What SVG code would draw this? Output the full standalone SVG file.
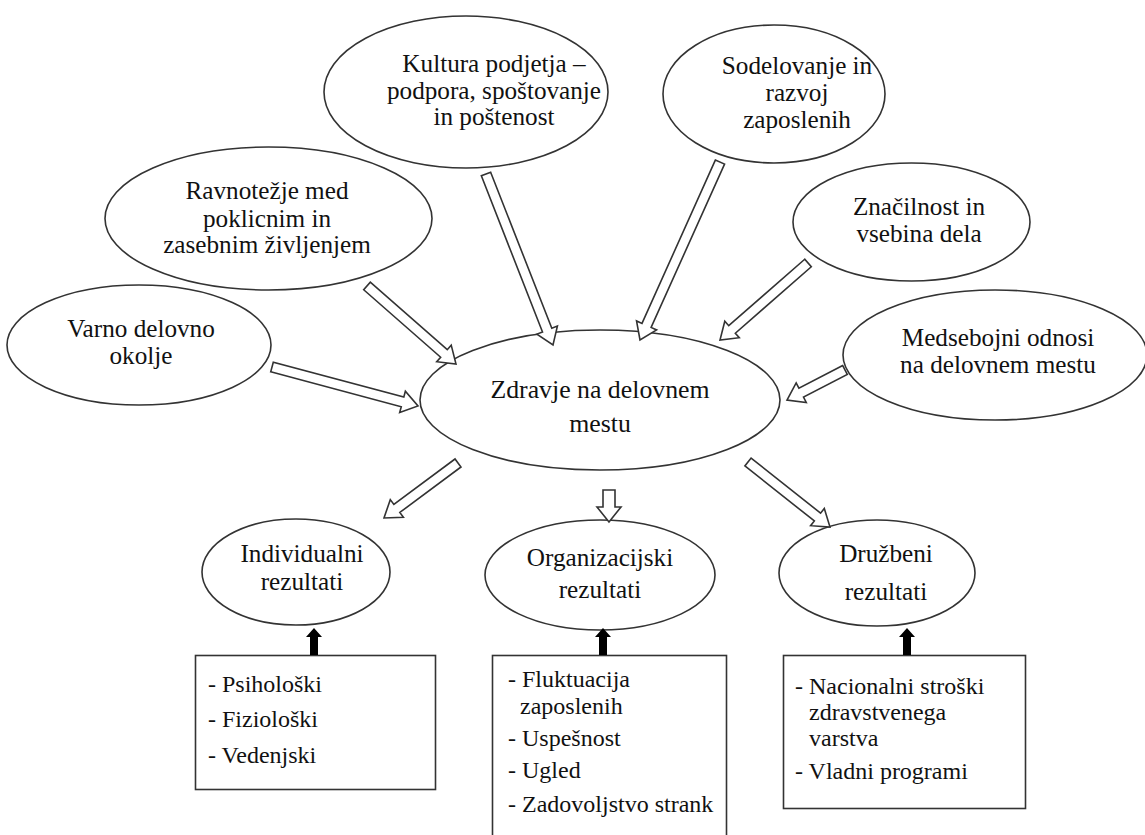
<svg xmlns="http://www.w3.org/2000/svg" width="1145" height="835" viewBox="0 0 1145 835">
<style>
.n{fill:#fff;stroke:#333;stroke-width:1.6}
.t{font-family:'Liberation Serif','DejaVu Serif','Times New Roman',serif;font-size:25.2px;fill:#111;text-anchor:middle}
.b{font-family:'Liberation Serif','DejaVu Serif','Times New Roman',serif;font-size:24px;fill:#111}
.h{fill:#fff;stroke:#333;stroke-width:1.6;stroke-linejoin:miter}
.s{fill:#000;stroke:none}
</style>
<rect width="1145" height="835" fill="#fff"/>
<g id="kultura"><ellipse class="n" cx="466" cy="92" rx="142" ry="76"/><text class="t" x="494" y="72">Kultura podjetja –</text><text class="t" x="494" y="99">podpora, spoštovanje</text><text class="t" x="494" y="125">in poštenost</text></g>
<g id="sodelovanje"><ellipse class="n" cx="774" cy="94" rx="111" ry="69"/><text class="t" x="797" y="74">Sodelovanje in</text><text class="t" x="797" y="101">razvoj</text><text class="t" x="797" y="128">zaposlenih</text></g>
<g id="ravnotezje"><ellipse class="n" cx="268.5" cy="218.5" rx="163.5" ry="71.5"/><text class="t" x="267" y="199">Ravnotežje med</text><text class="t" x="267" y="227">poklicnim in</text><text class="t" x="267" y="253">zasebnim življenjem</text></g>
<g id="znacilnost"><ellipse class="n" cx="911.5" cy="222" rx="118.5" ry="59"/><text class="t" x="919" y="215">Značilnost in</text><text class="t" x="919" y="242">vsebina dela</text></g>
<g id="varno"><ellipse class="n" cx="139" cy="345" rx="132" ry="60"/><text class="t" x="141" y="337">Varno delovno</text><text class="t" x="141" y="364">okolje</text></g>
<g id="medsebojni"><ellipse class="n" cx="995" cy="355" rx="152" ry="65"/><text class="t" x="998" y="346">Medsebojni odnosi</text><text class="t" x="998" y="373">na delovnem mestu</text></g>
<g id="zdravje"><ellipse class="n" cx="600" cy="400" rx="180" ry="70"/><text class="t" x="600" y="398" style="font-size:25.8px">Zdravje na delovnem</text><text class="t" x="600" y="432" style="font-size:25.8px">mestu</text></g>
<g id="individualni"><ellipse class="n" cx="296" cy="572" rx="94" ry="53"/><text class="t" x="302" y="562">Individualni</text><text class="t" x="302" y="590">rezultati</text></g>
<g id="organizacijski"><ellipse class="n" cx="600" cy="575" rx="115" ry="55"/><text class="t" x="600" y="566">Organizacijski</text><text class="t" x="600" y="598">rezultati</text></g>
<g id="druzbeni"><ellipse class="n" cx="877" cy="573" rx="98" ry="53"/><text class="t" x="886" y="562">Družbeni</text><text class="t" x="886" y="600">rezultati</text></g>
<g id="box-individualni"><rect class="n" x="195.5" y="655.5" width="240" height="134"/><text class="b" x="208" y="692">- Psihološki</text><text class="b" x="208" y="727">- Fiziološki</text><text class="b" x="208" y="763">- Vedenjski</text></g>
<g id="box-organizacijski"><rect class="n" x="492.5" y="655.5" width="234" height="190"/><text class="b" x="508" y="687">- Fluktuacija</text><text class="b" x="520" y="714">zaposlenih</text><text class="b" x="508" y="746">- Uspešnost</text><text class="b" x="508" y="778">- Ugled</text><text class="b" x="508" y="812">- Zadovoljstvo strank</text></g>
<g id="box-druzbeni"><rect class="n" x="783.5" y="655.5" width="242" height="153"/><text class="b" x="795" y="694">- Nacionalni stroški</text><text class="b" x="809" y="720">zdravstvenega</text><text class="b" x="809" y="746">varstva</text><text class="b" x="795" y="779">- Vladni programi</text></g>
<g id="connectors">
<polygon class="h" points="481.35,175.82 542.51,331.93 536.92,334.12 553,345 557.40,326.10 551.81,328.29 490.65,172.18"/>
<polygon class="h" points="715.44,159.95 642.00,323.36 636.53,320.90 640,340 656.59,329.92 651.12,327.46 724.56,164.05"/>
<polygon class="h" points="363.70,289.76 440.66,357.21 436.71,361.73 456,364 451.21,345.17 447.26,349.69 370.30,282.24"/>
<polygon class="h" points="804.71,259.24 728.75,325.70 724.79,321.18 720,340 739.29,337.74 735.33,333.22 811.29,266.76"/>
<polygon class="h" points="270.71,371.83 401.25,406.70 399.70,412.50 418,406 405.38,391.24 403.83,397.04 273.29,362.17"/>
<polygon class="h" points="842.70,365.56 798.91,388.21 796.16,382.88 787,400 806.26,402.42 803.51,397.09 847.30,374.44"/>
<polygon class="h" points="455.02,458.99 393.86,504.45 390.28,499.63 384,518 403.40,517.29 399.82,512.47 460.98,467.01"/>
<polygon class="h" points="603,490 603,507 597,507 609,522 621,507 615,507 615,490"/>
<polygon class="h" points="744.89,465.92 814.35,520.98 810.62,525.68 830,527 824.30,508.44 820.57,513.14 751.11,458.08"/>
<polygon class="s" points="310,655 310,637 306,637 314,628 322,637 318,637 318,655"/>
<polygon class="s" points="599,655 599,637 595,637 603,628 611,637 607,637 607,655"/>
<polygon class="s" points="903,655 903,637 899,637 907,628 915,637 911,637 911,655"/>
</g>
</svg>
